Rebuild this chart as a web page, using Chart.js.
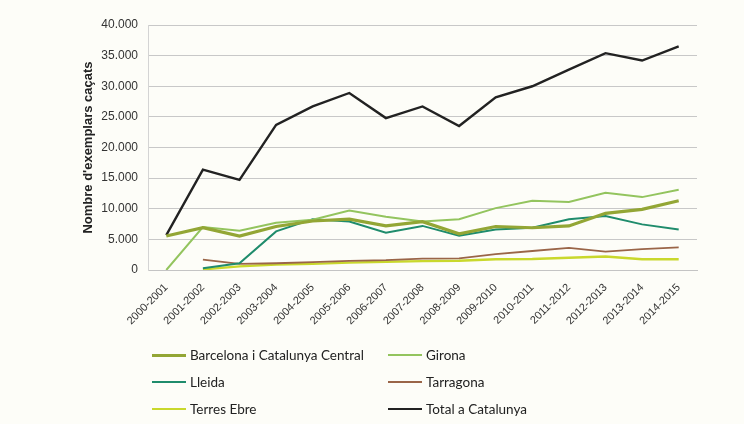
<!DOCTYPE html>
<html>
<head>
<meta charset="utf-8">
<script src="https://cdn.jsdelivr.net/npm/chart.js@4"></script>
<style>
  html, body { margin: 0; padding: 0; background: #fdfdf8; }
  #wrap { position: relative; width: 744px; height: 424px; }
  #legend {
    position: absolute; left: 152px; top: 345px;
    display: grid; grid-template-columns: 236px 240px; row-gap: 7px;
    font-family: Lato, "Noto Sans", sans-serif; font-size: 13.5px; color: #222;
  }
  .item { display: flex; align-items: center; height: 20px; }
  .swatch { width: 34px; margin-right: 4px; }
</style>
</head>
<body>
<div id="wrap">
  <canvas id="myChart" width="744" height="424"></canvas>
  <div id="legend"></div>
</div>
<script>
// Dades
const cursos = ['2000-2001', '2001-2002', '2002-2003', '2003-2004', '2004-2005', '2005-2006', '2006-2007',
    '2007-2008', '2008-2009', '2009-2010', '2010-2011', '2011-2012', '2012-2013', '2013-2014', '2014-2015'];

const barcelona = [5550, 6900, 5550, 7100, 8000, 8300, 7200, 7900, 5900, 7100, 6900, 7200, 9250, 9900, 11300];
const girona = [0, 7000, 6400, 7700, 8200, 9700, 8700, 7900, 8300, 10100, 11300, 11100, 12600, 11900, 13100];
const lleida = [null, 300, 1100, 6300, 8300, 7900, 6100, 7200, 5600, 6600, 6900, 8300, 8800, 7450, 6600];
const tarragona = [null, 1700, 1000, 1100, 1300, 1500, 1600, 1850, 1900, 2600, 3100, 3600, 3000, 3400, 3700];
const terresEbre = [null, 100, 600, 900, 1000, 1200, 1350, 1450, 1500, 1750, 1800, 2000, 2200, 1750, 1750];
const total = [5700, 16400, 14700, 23700, 26700, 28900, 24800, 26700, 23500, 28200, 30000, 32700, 35400, 34200, 36500];

const series = [
    { label: 'Barcelona i Catalunya Central', data: barcelona, color: '#93a635', width: 3.2 },
    { label: 'Girona', data: girona, color: '#93c45e', width: 2 },
    { label: 'Lleida', data: lleida, color: '#1f8c6c', width: 2 },
    { label: 'Tarragona', data: tarragona, color: '#9a6548', width: 1.8 },
    { label: 'Terres Ebre', data: terresEbre, color: '#c9d82c', width: 2.4 },
    { label: 'Total a Catalunya', data: total, color: '#222222', width: 2.4 },
];

const fmt = v => String(v).replace(/\B(?=(\d{3})+(?!\d))/g, '.');

const ctx = document.getElementById('myChart').getContext('2d');

const chart = new Chart(ctx, {
    type: 'line',
    data: {
        labels: cursos,
        datasets: series.map(s => ({
            label: s.label,
            data: s.data,
            borderColor: s.color,
            backgroundColor: s.color,
            borderWidth: s.width,
            pointRadius: 0,
            tension: 0,
            fill: false,
        }))
    },
    options: {
        responsive: false,
        animation: false,
        layout: { padding: { left: 77, right: 47, top: 25, bottom: 0 } },
        plugins: {
            legend: { display: false },
            tooltip: { enabled: false }
        },
        scales: {
            x: {
                offset: true,
                grid: { display: false },
                border: { display: true, color: '#c4c4c4' },
                ticks: {
                    minRotation: 45, maxRotation: 45,
                    color: '#333',
                    font: { family: 'Liberation Sans, Arial', size: 11 }
                },
                afterFit: s => { s.height = 154; }
            },
            y: {
                min: 0, max: 40000,
                ticks: {
                    stepSize: 5000,
                    padding: 10,
                    color: '#333',
                    font: { family: 'Liberation Sans, Arial', size: 12 },
                    callback: v => fmt(v)
                },
                grid: { color: '#c8c8c8', drawTicks: false },
                border: { display: true, color: '#d4d4d4' },
                title: {
                    display: true,
                    text: "Nombre d'exemplars caçats",
                    color: '#222',
                    font: { family: 'Liberation Sans, Arial', size: 13, weight: 'bold' }
                },
                afterFit: s => { s.width = 71; }
            }
        }
    }
});

// Llegenda en dues columnes
const legend = document.getElementById('legend');
chart.data.datasets.forEach(ds => {
    const item = document.createElement('div');
    item.className = 'item';
    const sw = document.createElement('span');
    sw.className = 'swatch';
    sw.style.borderTop = Math.max(ds.borderWidth, 2) + 'px solid ' + ds.borderColor;
    const txt = document.createElement('span');
    txt.textContent = ds.label;
    item.appendChild(sw);
    item.appendChild(txt);
    legend.appendChild(item);
});
</script>
</body>
</html>
